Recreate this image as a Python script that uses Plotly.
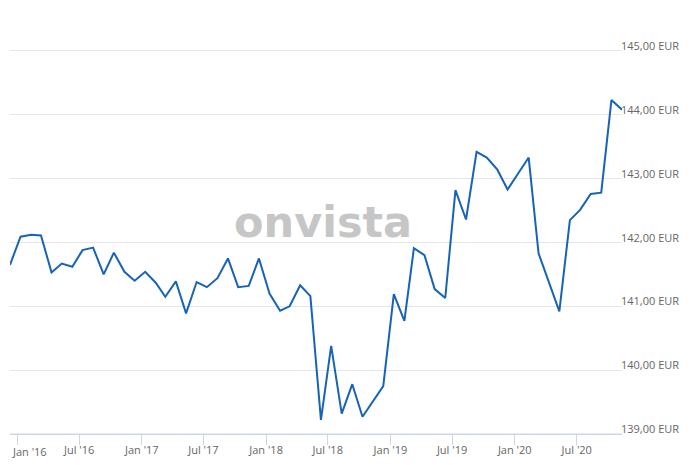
import pandas as pd
import plotly.graph_objects as go

# Monthly closing values (EUR), Dec 2015 - Nov 2020
start_date = "2015-12-11"
values = [
    141.65, 142.09, 142.12, 142.11, 141.53, 141.67, 141.62, 141.88, 141.92, 141.50,
    141.84, 141.54, 141.40, 141.54, 141.37, 141.15, 141.39, 140.89, 141.38, 141.30,
    141.44, 141.75, 141.30, 141.32, 141.75, 141.20, 140.93, 141.00, 141.33, 141.16,
    139.22, 140.38, 139.32, 139.78, 139.27, 139.51, 139.75, 141.19, 140.77, 141.91,
    141.80, 141.27, 141.13, 142.82, 142.36, 143.42, 143.33, 143.14, 142.83, 143.08,
    143.33, 141.83, 141.37, 140.92, 142.35, 142.51, 142.76, 142.78, 144.23, 144.08,
]
dates = pd.date_range(start_date, periods=len(values), freq=pd.DateOffset(months=1))

y_ticks = [139, 140, 141, 142, 143, 144, 145]
y_labels = ["139,00 EUR", "140,00 EUR", "141,00 EUR", "142,00 EUR",
            "143,00 EUR", "144,00 EUR", "145,00 EUR"]
x_ticks = ["2016-01-01", "2016-07-01", "2017-01-01", "2017-07-01", "2018-01-01",
           "2018-07-01", "2019-01-01", "2019-07-01", "2020-01-01", "2020-07-01"]
x_labels = ["Jan '16", "Jul '16", "Jan '17", "Jul '17", "Jan '18",
            "Jul '18", "Jan '19", "Jul '19", "Jan '20", "Jul '20"]
x_range = ["2015-12-11", "2020-11-11"]
y_range = [139, 145.5]

fig = go.Figure()
fig.add_trace(go.Scatter(
    x=dates, y=values, mode="lines",
    line=dict(color="#1763b5", width=2),
    hoverinfo="skip",
))

fig.add_annotation(
    text="<b>onvista</b>", xref="paper", yref="y", x=0.511, y=142.32,
    showarrow=False, font=dict(family="DejaVu Sans", size=43, color="#c6c6c6"),
    xanchor="center", yanchor="middle",
)

# first x label is shifted inside the chart (edge label)
fig.add_annotation(
    text=x_labels[0], xref="paper", yref="paper", x=0, y=0,
    xanchor="left", yanchor="top", yshift=-8, xshift=0,
    showarrow=False, font=dict(family="Open Sans", size=11, color="#666666"),
)

fig.update_layout(
    width=696, height=465,
    margin=dict(l=10, r=74, t=19, b=31),
    paper_bgcolor="white", plot_bgcolor="white",
    showlegend=False,
    font=dict(family="Open Sans", size=11, color="#666666"),
)
fig.update_xaxes(
    type="date", range=x_range, automargin=False,
    tickvals=x_ticks, ticktext=[""] + x_labels[1:],
    showgrid=False, zeroline=False,
    showline=True, linecolor="#ccd6eb", linewidth=1,
    ticks="outside", ticklen=10, tickcolor="#ccd6eb", tickwidth=1,
    ticklabelstandoff=-4,
    tickfont=dict(family="Open Sans", size=11, color="#666666"),
)
fig.update_yaxes(
    range=y_range, side="right", automargin=False,
    tickvals=y_ticks, ticktext=y_labels,
    ticklabelposition="outside top",
    ticklabelshift=3, ticklabelstandoff=-2,
    showgrid=True, gridcolor="#e6e6e6", gridwidth=1,
    zeroline=False, showline=False, ticks="",
    tickfont=dict(family="Open Sans", size=11, color="#666666"),
)
fig.add_hline(y=139, line=dict(color="#ccd6eb", width=1))

fig.write_html("out.html", config={"displayModeBar": False},
               post_script="document.body.style.margin='0px';")
